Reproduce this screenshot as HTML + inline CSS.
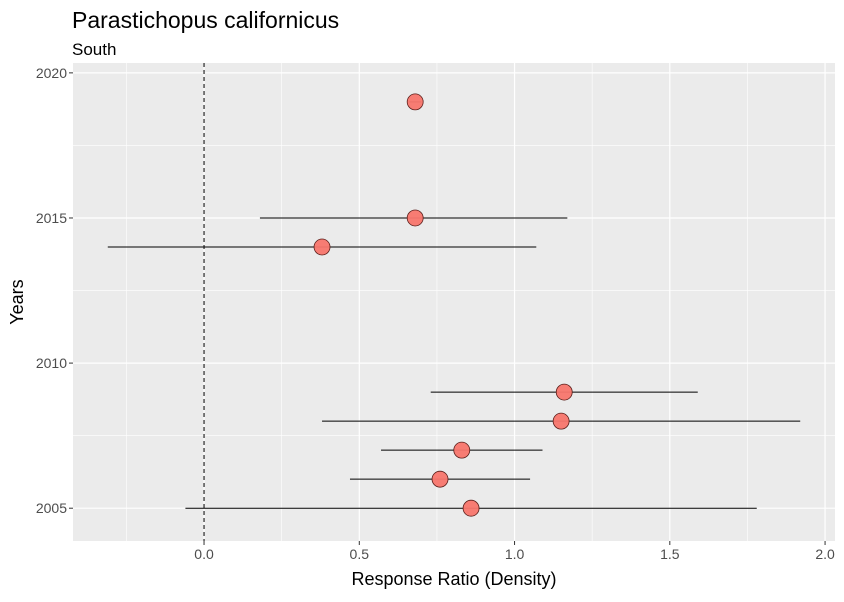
<!DOCTYPE html>
<html><head><meta charset="utf-8"><style>
body{margin:0;background:#fff;font-family:"Liberation Sans",Arial,sans-serif}
svg text{font-family:"Liberation Sans",Arial,sans-serif}
</style></head><body>
<svg id="chart" width="844" height="597" viewBox="0 0 844 597">
<text x="72" y="28" font-size="23" fill="#000">Parastichopus californicus</text>
<text x="72" y="55" font-size="17" fill="#000">South</text>
<rect x="73" y="63" width="762" height="478" fill="#ebebeb"/>
<g id="grid"></g><g id="marks"></g><g id="axes"></g>
<text x="454" y="585" font-size="18" text-anchor="middle" fill="#000">Response Ratio (Density)</text>
<text transform="translate(23,302) rotate(-90)" font-size="18" text-anchor="middle" fill="#000">Years</text>
</svg>
<script>
const years=[2019,2015,2014,2009,2008,2007,2006,2005];
const estimates=[0.68,0.68,0.38,1.16,1.15,0.83,0.76,0.86];
const lower=[0.66,0.18,-0.31,0.73,0.38,0.57,0.47,-0.06];
const upper=[0.70,1.17,1.07,1.59,1.92,1.09,1.05,1.78];
const xTicks=[0,0.5,1,1.5,2];
const xTickLabels=["0.0","0.5","1.0","1.5","2.0"];
const yTicks=[2005,2010,2015,2020];
const NS="http://www.w3.org/2000/svg";
const L=73,R=835,T=63,B=541,xmin=-0.422,xmax=2.032,ymin=2003.87,ymax=2020.34;
const sx=v=>L+(v-xmin)/(xmax-xmin)*(R-L);
const sy=v=>B-(v-ymin)/(ymax-ymin)*(B-T);
function mk(tag,attrs,parent){const e=document.createElementNS(NS,tag);for(const k in attrs)e.setAttribute(k,attrs[k]);document.getElementById(parent).appendChild(e);return e;}
xTicks.forEach((t,i)=>{
 if(i<xTicks.length-1){const m=(t+xTicks[i+1])/2;const g=mk('line',{x1:sx(m),x2:sx(m),y1:T,y2:B,stroke:'#fff','stroke-width':0.6},'grid');}
 const g=mk('line',{x1:sx(t),x2:sx(t),y1:T,y2:B,stroke:'#fff','stroke-width':1.2},'grid');
 
 const tk=mk('line',{x1:sx(t),x2:sx(t),y1:B,y2:B+4,stroke:'#333','stroke-width':1},'axes');
 
 const tx=mk('text',{x:sx(t),y:B+18,'font-size':14,'text-anchor':'middle',fill:'#4d4d4d'},'axes');tx.textContent=xTickLabels[i];
 
});
{const m=xTicks[0]-0.25;const g=mk('line',{x1:sx(m),x2:sx(m),y1:T,y2:B,stroke:'#fff','stroke-width':0.6},'grid');}
yTicks.forEach((t,i)=>{
 if(i<yTicks.length-1){const m=(t+yTicks[i+1])/2;const g=mk('line',{x1:L,x2:R,y1:sy(m),y2:sy(m),stroke:'#fff','stroke-width':0.6},'grid');}
 const g=mk('line',{x1:L,x2:R,y1:sy(t),y2:sy(t),stroke:'#fff','stroke-width':1.2},'grid');
 
 const tk=mk('line',{x1:L-4,x2:L,y1:sy(t),y2:sy(t),stroke:'#333','stroke-width':1},'axes');
 
 const tx=mk('text',{x:L-6,y:sy(t)+5,'font-size':14,'text-anchor':'end',fill:'#4d4d4d'},'axes');tx.textContent=t;
 
});
const zl=mk('line',{x1:sx(0),x2:sx(0),y1:T,y2:B,stroke:'#000','stroke-width':1,'stroke-dasharray':'4,3'},'marks');

years.forEach((y,i)=>{
 const e=mk('line',{x1:sx(lower[i]),x2:sx(upper[i]),y1:sy(y),y2:sy(y),stroke:'#000','stroke-width':1},'marks');
 
 const c=mk('circle',{cx:sx(estimates[i]),cy:sy(y),r:8,fill:'#f8766d','fill-opacity':0.95,stroke:'#5a1f1b','stroke-width':0.8},'marks');
 
});
</script>
</body></html>
